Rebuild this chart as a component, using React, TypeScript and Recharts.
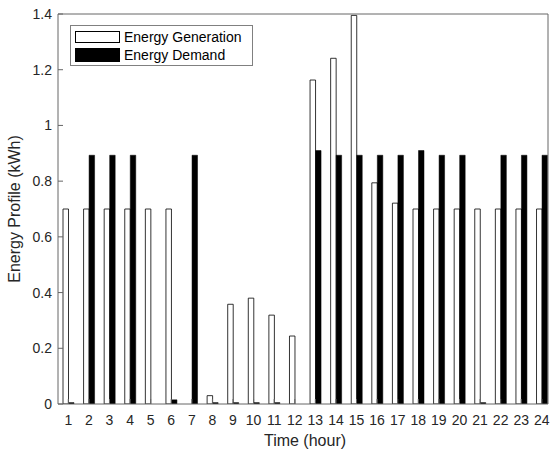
import React from 'react';
import { BarChart, Bar, XAxis, YAxis, Legend, Label } from 'recharts';

const hours = [1, 2, 3, 4, 5, 6, 7, 8, 9, 10, 11, 12, 13, 14, 15, 16, 17, 18, 19, 20, 21, 22, 23, 24];
const generation = [0.7, 0.7, 0.7, 0.7, 0.7, 0.7, 0, 0.03, 0.358, 0.38, 0.319, 0.244, 1.163, 1.241, 1.395, 0.794, 0.721, 0.7, 0.7, 0.7, 0.7, 0.7, 0.7, 0.7];
const demand = [0.005, 0.893, 0.893, 0.893, 0, 0.015, 0.893, 0.005, 0.005, 0.005, 0.005, 0, 0.91, 0.893, 0.893, 0.893, 0.893, 0.91, 0.893, 0.893, 0.005, 0.893, 0.893, 0.893];
const yTicks = [0, 0.2, 0.4, 0.6, 0.8, 1, 1.2, 1.4];
const seriesNames = ['Energy Generation', 'Energy Demand'];
const xTitle = 'Time (hour)';
const yTitle = 'Energy Profile (kWh)';

const data = hours.map((h, i) => ({ hour: h, gen: generation[i], dem: demand[i] }));

const FONT = '"Liberation Sans", Arial, Helvetica, sans-serif';
const AXIS = '#666666';
const TEXT = '#262626';

const LegendBox = () => (
  <div
    style={{
      border: '1px solid #808080',
      background: '#fff',
      width: 181,
      height: 39,
      boxSizing: 'content-box',
      fontFamily: FONT,
      fontSize: 14,
      color: '#000',
      position: 'relative',
    }}
  >
    <div style={{ position: 'absolute', left: 4, top: 5, width: 45, height: 12, border: '1px solid #000', background: '#fff', boxSizing: 'border-box' }} />
    <div style={{ position: 'absolute', left: 53, top: 3, lineHeight: '16px', whiteSpace: 'nowrap' }}>{seriesNames[0]}</div>
    <div style={{ position: 'absolute', left: 4, top: 22, width: 45, height: 14, background: '#000' }} />
    <div style={{ position: 'absolute', left: 53, top: 21, lineHeight: '16px', whiteSpace: 'nowrap' }}>{seriesNames[1]}</div>
  </div>
);

export default function App() {
  return (
    <div style={{ position: 'absolute', left: 0, top: 0, width: 554, height: 457, fontFamily: FONT, overflow: 'hidden' }}>
      <BarChart
        width={554}
        height={457}
        data={data}
        margin={{ top: 13, right: 5, bottom: 8, left: 8 }}
        barGap={0}
        style={{ fontFamily: FONT }}
      >
        <XAxis
          dataKey="hour"
          type="number"
          domain={[0.5, 24.3]}
          ticks={hours}
          interval={0}
          allowDataOverflow
          height={45}
          stroke={AXIS}
          tickSize={-5}
          tickMargin={16}
          tick={{ fill: TEXT, fontSize: 14, fontFamily: FONT }}
        >
          <Label
            content={({ viewBox }: any) => (
              <text
                x={viewBox.x + viewBox.width / 2 + 2}
                y={445.5}
                textAnchor="middle"
                fontSize={16}
                fontFamily={FONT}
                fill={TEXT}
              >
                {xTitle}
              </text>
            )}
          />
        </XAxis>
        <XAxis
          xAxisId="top"
          orientation="top"
          dataKey="hour"
          type="number"
          domain={[0.5, 24.3]}
          ticks={hours}
          interval={0}
          allowDataOverflow
          height={1}
          stroke={AXIS}
          tickSize={-5}
          tick={false}
        />
        <YAxis
          type="number"
          domain={[0, 1.4]}
          ticks={yTicks}
          interval={0}
          allowDataOverflow
          width={50}
          stroke={AXIS}
          tickSize={-5}
          tickMargin={11}
          tickFormatter={(v: number) => `${+v.toFixed(1)}`}
          tick={{ fill: TEXT, fontSize: 14, fontFamily: FONT }}
        >
          <Label
            content={({ viewBox }: any) => {
              const x = 19.7;
              const y = viewBox.y + viewBox.height / 2;
              return (
                <text
                  x={x}
                  y={y}
                  transform={`rotate(-90, ${x}, ${y})`}
                  textAnchor="middle"
                  fontSize={16}
                  fontFamily={FONT}
                  fill={TEXT}
                >
                  {yTitle}
                </text>
              );
            }}
          />
        </YAxis>
        <YAxis
          yAxisId="right"
          orientation="right"
          type="number"
          domain={[0, 1.4]}
          ticks={yTicks}
          interval={0}
          allowDataOverflow
          width={1}
          stroke={AXIS}
          tickSize={-5}
          tick={false}
        />
        <Legend
          layout="vertical"
          align="center"
          verticalAlign="middle"
          wrapperStyle={{ left: 70, top: 25, width: 'auto', height: 'auto' }}
          content={() => <LegendBox />}
        />
        <Bar dataKey="gen" name={seriesNames[0]} fill="#ffffff" stroke="#000000" strokeWidth={0.8} barSize={5.5} isAnimationActive={false} />
        <Bar dataKey="dem" name={seriesNames[1]} fill="#000000" stroke="#000000" strokeWidth={0.5} barSize={5.5} isAnimationActive={false} />
      </BarChart>
    </div>
  );
}
